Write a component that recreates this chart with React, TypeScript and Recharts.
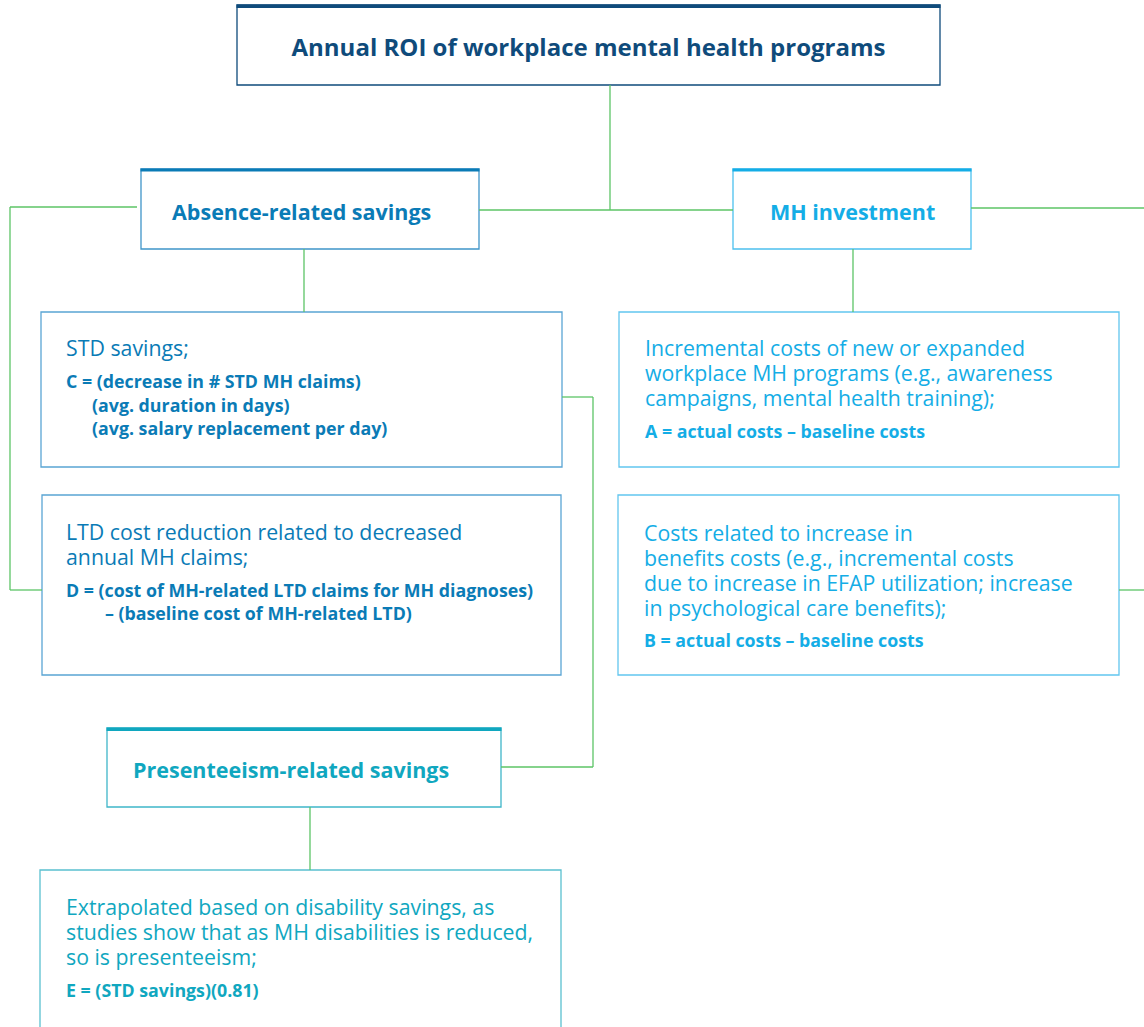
import { ComposedChart, XAxis, YAxis, ReferenceArea, ReferenceLine, Scatter } from 'recharts'

// canvas size (diagram units = pixels)
const W = 1144
const H = 1027

// texts
const title = 'Annual ROI of workplace mental health programs'
const headings = ['Absence-related savings', 'MH investment', 'Presenteeism-related savings']
const stdLines = ['STD savings;']
const stdFormula = ['C = (decrease in # STD MH claims)', '(avg. duration in days)', '(avg. salary replacement per day)']
const ltdLines = ['LTD cost reduction related to decreased', 'annual MH claims;']
const ltdFormula = ['D = (cost of MH-related LTD claims for MH diagnoses)', '– (baseline cost of MH-related LTD)']
const aLines = ['Incremental costs of new or expanded', 'workplace MH programs (e.g., awareness', 'campaigns, mental health training);']
const aFormula = ['A = actual costs – baseline costs']
const bLines = ['Costs related to increase in', 'benefits costs (e.g., incremental costs', 'due to increase in EFAP utilization; increase', 'in psychological care benefits);']
const bFormula = ['B = actual costs – baseline costs']
const eLines = ['Extrapolated based on disability savings, as', 'studies show that as MH disabilities is reduced,', 'so is presenteeism;']
const eFormula = ['E = (STD savings)(0.81)']

const NAVY = '#0f4b7b'
const BLUE = '#0a7bb6'
const CYAN = '#14ade6'
const TEAL = '#10a7bf'
const GREEN = '#5cc466'
const FONT = '"Open Sans", sans-serif'

const BODY = 21.3
const FORMULA = 17.8
const HEAD = 21.5

// boxes: [x1, x2, y1, y2, border colour, top bar colour, top bar thickness]
const boxes: [number, number, number, number, string, string, number][] = [
  [237, 940, 5, 85, NAVY, NAVY, 3],
  [141, 479, 169, 249, '#3f95c9', BLUE, 2.5],
  [733, 971, 169, 249, '#4cc0ee', CYAN, 2.5],
  [41, 562, 312, 467, '#5aa5d4', '', 0],
  [42, 561, 495, 675, '#5aa5d4', '', 0],
  [619, 1119, 312, 467, '#62c6ef', '', 0],
  [618, 1119, 495, 675, '#62c6ef', '', 0],
  [107, 501, 728, 807, '#3fb6c9', TEAL, 3],
  [40, 561, 870, 1040, '#5ac0d0', '', 0],
]

// connectors as polylines
const connectors: [number, number][][] = [
  [[610, 85], [610, 210]],
  [[479, 210], [733, 210]],
  [[137, 207], [10, 207], [10, 590], [42, 590]],
  [[971, 208], [1144, 208]],
  [[1119, 590], [1144, 590]],
  [[304, 249], [304, 312]],
  [[853, 249], [853, 312]],
  [[562, 397], [593, 397], [593, 767], [501, 767]],
  [[310, 807], [310, 870]],
]

type TextRow = { x: number; y: number; text: string; color: string; size: number; weight: number; anchor: string }

const rows: TextRow[] = []
const addRows = (lines: string[], x: number | number[], y0: number, step: number, color: string, size: number, weight: number, anchor = 'start') => {
  lines.forEach((text, i) => {
    rows.push({ x: Array.isArray(x) ? x[i] : x, y: y0 + i * step, text, color, size, weight, anchor })
  })
}

addRows([title], 588.5, 46, 0, NAVY, 24, 700, 'middle')
addRows([headings[0]], 172, 211, 0, BLUE, HEAD, 700)
addRows([headings[1]], 770, 211, 0, CYAN, HEAD, 700)
addRows([headings[2]], 133, 769, 0, TEAL, HEAD, 700)
addRows(stdLines, 66, 347, 25, BLUE, BODY, 400)
addRows(stdFormula, [66, 92, 92], 381, 23.5, BLUE, FORMULA, 700)
addRows(ltdLines, 66, 531, 25, BLUE, BODY, 400)
addRows(ltdFormula, [66, 105], 590, 23, BLUE, FORMULA, 700)
addRows(aLines, 645, 347, 25, CYAN, BODY, 400)
addRows(aFormula, 645, 431, 0, CYAN, FORMULA, 700)
addRows(bLines, 644, 532, 25, CYAN, BODY, 400)
addRows(bFormula, 644, 640, 0, CYAN, FORMULA, 700)
addRows(eLines, 66, 906, 25, TEAL, BODY, 400)
addRows(eFormula, 66, 990, 0, TEAL, FORMULA, 700)

const TextShape = (props: any) => {
  const { cx, cy, payload } = props
  return (
    <text
      x={cx}
      y={cy}
      dominantBaseline="central"
      textAnchor={payload.anchor}
      fill={payload.color}
      fontSize={payload.size}
      fontWeight={payload.weight}
      fontFamily={FONT}
    >
      {payload.text}
    </text>
  )
}

export default function App() {
  return (
    <div style={{ position: 'absolute', left: 0, top: 0, background: '#fff' }}>
      <ComposedChart width={W} height={H} margin={{ top: 0, right: 0, bottom: 0, left: 0 }}>
        <XAxis type="number" dataKey="x" domain={[0, W]} hide allowDataOverflow />
        <YAxis type="number" dataKey="y" domain={[0, H]} reversed hide allowDataOverflow />
        {connectors.flatMap((pts, ci) =>
          pts.slice(1).map((p, i) => (
            <ReferenceLine
              key={`c${ci}-${i}`}
              segment={[{ x: pts[i][0], y: pts[i][1] }, { x: p[0], y: p[1] }]}
              stroke={GREEN}
              strokeWidth={1.3}
              ifOverflow="visible"
            />
          ))
        )}
        {boxes.map(([x1, x2, y1, y2, border], i) => (
          <ReferenceArea
            key={`b${i}`}
            x1={x1}
            x2={x2}
            y1={y1}
            y2={y2}
            fill="#fff"
            fillOpacity={1}
            stroke={border}
            strokeWidth={1.3}
            ifOverflow="hidden"
          />
        ))}
        {boxes
          .filter((b) => b[6] > 0)
          .map(([x1, x2, y1, , , bar, t], i) => (
            <ReferenceArea key={`t${i}`} x1={x1 - 0.5} x2={x2 + 0.5} y1={y1 - 0.5} y2={y1 + t} fill={bar} fillOpacity={1} stroke="none" />
          ))}
        <Scatter data={rows} dataKey="y" shape={<TextShape />} isAnimationActive={false} />
      </ComposedChart>
    </div>
  )
}
